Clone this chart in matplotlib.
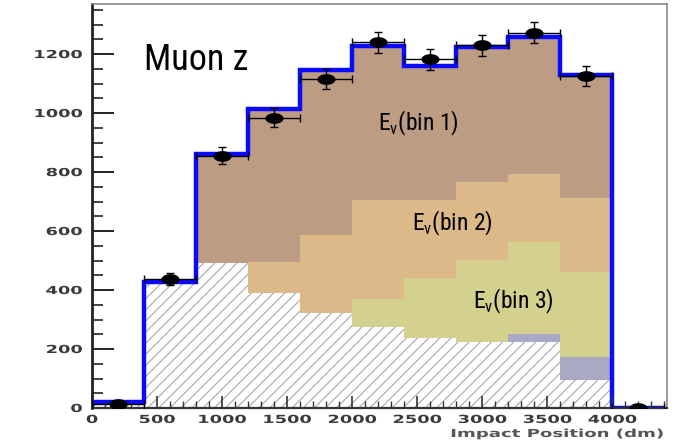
import numpy as np
import matplotlib
matplotlib.use("Agg")
import matplotlib.pyplot as plt
from matplotlib.path import Path
from matplotlib.ticker import MultipleLocator
from matplotlib.transforms import Affine2D
from matplotlib import font_manager, patheffects

# Bin edges of the impact-position histogram (dm)
edges = np.arange(0, 4801, 400)[:12]
centers = edges[:-1] + 200

# Stacked simulation components (events per bin)
other = [20, 428, 491, 389, 322, 276, 236, 225, 225, 95, 0]
ev_bin4 = [0, 0, 0, 0, 0, 0, 0, 0, 26, 79, 0]
ev_bin3 = [0, 0, 0, 0, 0, 92, 204, 277, 313, 288, 0]
ev_bin2 = [0, 0, 0, 107, 264, 337, 265, 265, 231, 249, 0]
ev_bin1 = [0, 0, 370, 517, 560, 522, 455, 458, 462, 418, 0]

# Observed counts
data = [12, 437, 855, 985, 1115, 1240, 1182, 1230, 1273, 1125, 0]

x_ticks = [0, 500, 1000, 1500, 2000, 2500, 3000, 3500, 4000]
y_ticks = [0, 200, 400, 600, 800, 1000, 1200]


class HStretch(patheffects.AbstractPathEffect):
    """Draw text glyphs widened horizontally about a chosen anchor."""

    def __init__(self, sx, anchor='center'):
        super().__init__()
        self.sx = sx
        self.anchor = anchor

    def draw_path(self, renderer, gc, tpath, affine, rgbFace=None):
        ext = tpath.get_extents()
        cx = {'left': ext.x0, 'right': ext.x1}.get(self.anchor,
                                                     0.5 * (ext.x0 + ext.x1))
        tr = Affine2D().translate(-cx, 0).scale(self.sx, 1).translate(cx, 0)
        renderer.draw_path(gc, tpath, tr + affine, rgbFace)


# Pick a narrow face for the annotations if one is installed
installed = {f.name for f in font_manager.fontManager.ttflist}
narrow_candidates = ['Roboto Condensed', 'Open Sans Condensed',
                     'Liberation Sans Narrow', 'DejaVu Sans Condensed',
                     'Noto Sans Condensed', 'Ubuntu Condensed']
narrow_name = next((n for n in narrow_candidates if n in installed), 'DejaVu Sans')
narrow = font_manager.FontProperties(family=narrow_name, stretch='condensed')
narrow = font_manager.FontProperties(fname=font_manager.findfont(narrow))

plt.rcParams['hatch.linewidth'] = 0.8

fig = plt.figure(figsize=(6.73, 4.44), dpi=100)
ax = fig.add_axes([92 / 673, 36 / 444, 575 / 673, 404 / 444])

layers = [
    (ev_bin4, '#a9a9c6'),
    (ev_bin3, '#d4d08e'),
    (ev_bin2, '#ddb98a'),
    (ev_bin1, '#bd9c84'),
]

left = edges[:-1]
bottom = np.array(other, dtype=float)
ax.bar(left, other, width=400, align='edge', facecolor='white',
       edgecolor='#a8a8a8', hatch='///', linewidth=0)
for vals, col in layers:
    ax.bar(left, vals, width=400, bottom=bottom, align='edge',
           color=col, linewidth=0)
    bottom = bottom + np.array(vals)

total = bottom
ax.stairs(total, edges, color='#0a0aff', linewidth=3.2, baseline=0)

# Elliptical data marker
t = np.linspace(0, 2 * np.pi, 40)
ellipse = Path(np.column_stack([np.cos(t), 0.56 * np.sin(t)]))
err = np.sqrt(np.array(data, dtype=float))
ax.errorbar(centers, data, yerr=err, xerr=200, fmt='none',
            ecolor='black', elinewidth=1.0, capsize=3, capthick=1.0, zorder=5)
ax.plot(centers, data, linestyle='none', marker=ellipse, markersize=12,
        color='black', zorder=6)

ax.set_xlim(0, 4420)
ax.set_ylim(0, 1370)
ax.xaxis.set_minor_locator(MultipleLocator(100))
ax.yaxis.set_minor_locator(MultipleLocator(50))
ax.set_xticks(x_ticks)
ax.set_yticks(y_ticks)
ax.set_xticklabels([str(v) for v in x_ticks])
ax.set_yticklabels([str(v) for v in y_ticks])

ax.tick_params(axis='x', which='major', direction='in', length=9, width=1.2,
               color='#333333', labelsize=8, labelcolor='#3a3a3a', pad=5)
ax.tick_params(axis='x', which='minor', direction='in', length=5, width=1,
               color='#333333')
ax.tick_params(axis='y', which='major', direction='in', length=16, width=1.4,
               color='#222222', labelsize=8, labelcolor='#3a3a3a', pad=7)
ax.tick_params(axis='y', which='minor', direction='in', length=8, width=1.2,
               color='#222222')
for tick in ax.xaxis.get_major_ticks():
    tick.label1.set_fontweight('bold')
    tick.label1.set_path_effects([HStretch(1.6, 'center')])
for tick in ax.yaxis.get_major_ticks():
    tick.label1.set_fontweight('bold')
    tick.label1.set_path_effects([HStretch(1.6, 'right')])

ax.spines['left'].set_linewidth(2)
ax.spines['left'].set_color('#222222')
ax.spines['bottom'].set_linewidth(1.6)
ax.spines['bottom'].set_color('#333333')
for side in ('top', 'right'):
    ax.spines[side].set_color('#8a8a8a')
    ax.spines[side].set_linewidth(1.2)

xlab = fig.text(663 / 673, 1 - 434 / 444, 'Impact Position (dm)', ha='right',
                va='center', fontsize=8, color='#555555', fontweight='bold')
fig.canvas.draw()
xlab_w = xlab.get_window_extent().width
xlab.set_path_effects([HStretch(213 / xlab_w, 'right')])

ax.text(400, 1146, 'Muon z', fontproperties=narrow, fontsize=26,
        color='black', va='baseline')
for xpos, ypos, label in [(2200, 942, 'bin 1'), (2460, 601, 'bin 2'),
                          (2925, 339, 'bin 3')]:
    ax.text(xpos, ypos, r'E$_{\mathdefault{v}}$(' + label + ')',
            fontproperties=narrow, fontsize=17, va='baseline')

fig.savefig('out.png', dpi=100)
